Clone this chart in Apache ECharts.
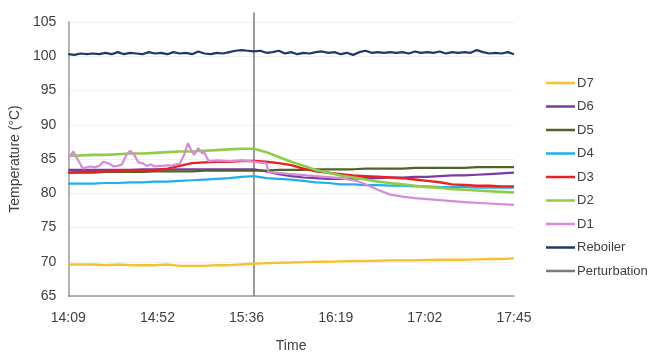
<!DOCTYPE html>
<html>
<head>
<meta charset="utf-8">
<script src="https://cdn.jsdelivr.net/npm/echarts@6/dist/echarts.min.js"></script>
<style>
  html, body { margin: 0; padding: 0; background: #ffffff; }
  #chart { width: 649px; height: 358px; }
</style>
</head>
<body>
<div id="chart"></div>
<script>
// Minutes elapsed since 14:09, x axis runs 0..216 (14:09 .. 17:45)
const tickLabels = ['14:09', '14:52', '15:36', '16:19', '17:02', '17:45'];

// Column temperatures sampled every 6 minutes
const sampleMinutes = [0, 6, 12, 18, 24, 30, 36, 42, 48, 54, 60, 66, 72, 78, 84, 90, 96, 102, 108,
  114, 120, 126, 132, 138, 144, 150, 156, 162, 168, 174, 180, 186, 192, 198, 204, 210, 216];

const d7 = [69.6, 69.6, 69.6, 69.5, 69.6, 69.5, 69.5, 69.5, 69.6, 69.4, 69.4, 69.4, 69.5, 69.5, 69.6,
  69.7, 69.8, 69.85, 69.9, 69.95, 70.0, 70.0, 70.05, 70.1, 70.1, 70.15, 70.2, 70.2, 70.2, 70.25,
  70.3, 70.3, 70.3, 70.35, 70.4, 70.4, 70.5];

const d6 = [83.4, 83.4, 83.4, 83.4, 83.4, 83.4, 83.5, 83.5, 83.5, 83.5, 83.5, 83.5, 83.5, 83.5, 83.5,
  83.5, 83.2, 82.8, 82.5, 82.3, 82.2, 82.1, 82.1, 82.1, 82.2, 82.2, 82.3, 82.3, 82.4, 82.4,
  82.5, 82.6, 82.6, 82.7, 82.8, 82.9, 83.0];

const d5 = [83.0, 83.0, 83.0, 83.1, 83.1, 83.1, 83.1, 83.2, 83.2, 83.2, 83.2, 83.3, 83.3, 83.3, 83.3,
  83.3, 83.3, 83.4, 83.4, 83.4, 83.5, 83.5, 83.5, 83.5, 83.6, 83.6, 83.6, 83.6, 83.7, 83.7,
  83.7, 83.7, 83.7, 83.8, 83.8, 83.8, 83.8];

const d4 = [81.4, 81.4, 81.4, 81.5, 81.5, 81.6, 81.6, 81.7, 81.7, 81.8, 81.9, 82.0, 82.1, 82.2, 82.4,
  82.5, 82.2, 82.1, 82.0, 81.8, 81.6, 81.5, 81.3, 81.3, 81.2, 81.2, 81.1, 81.1, 81.0, 81.0,
  80.9, 80.9, 80.9, 80.8, 80.8, 80.8, 80.8];

const d3 = [83.0, 83.1, 83.1, 83.2, 83.2, 83.3, 83.3, 83.4, 83.6, 84.0, 84.4, 84.5, 84.6, 84.6, 84.7,
  84.7, 84.6, 84.4, 84.1, 83.6, 83.2, 83.0, 82.8, 82.6, 82.5, 82.4, 82.3, 82.2, 82.0, 81.8,
  81.6, 81.3, 81.2, 81.1, 81.1, 81.0, 81.0];

const d2 = [85.5, 85.5, 85.6, 85.6, 85.7, 85.8, 85.8, 85.9, 86.0, 86.1, 86.1, 86.2, 86.3, 86.4, 86.5,
  86.5, 86.0, 85.3, 84.6, 84.0, 83.4, 83.0, 82.6, 82.3, 82.0, 81.7, 81.5, 81.3, 81.1, 80.9,
  80.8, 80.6, 80.5, 80.4, 80.3, 80.2, 80.1];

// D1 has short spikes, so it carries its own time stamps
const d1Minutes = [0, 1, 2.5, 4, 6, 7, 9, 11, 13, 15, 17, 19, 20, 22, 24, 26, 28, 30, 32, 34, 36, 38,
  40, 42, 44, 46, 48, 50, 52, 54, 56, 58, 60, 61, 63, 65, 66, 68, 72, 78, 84, 88, 92, 96, 97,
  100, 108, 120, 132, 140, 144, 150, 156, 162, 168, 180, 192, 204, 216];
const d1 = [85.2, 85.5, 86.1, 85.2, 84.2, 83.6, 83.8, 83.9, 83.8, 84.0, 84.6, 84.4, 84.3, 83.9, 84.0,
  84.2, 85.5, 86.2, 85.6, 84.5, 84.4, 84.0, 84.2, 83.9, 84.0, 84.0, 84.1, 84.0, 84.2, 84.3,
  85.5, 87.3, 86.0, 85.6, 86.6, 85.8, 85.9, 84.7, 84.8, 84.7, 84.8, 84.7, 84.5, 84.4, 83.1,
  83.0, 82.8, 82.5, 82.2, 81.8, 81.3, 80.5, 79.8, 79.5, 79.3, 79.0, 78.7, 78.5, 78.3];

// Reboiler sampled every 3 minutes
const reboilerMinutes = [0, 3, 6, 9, 12, 15, 18, 21, 24, 27, 30, 33, 36, 39, 42, 45, 48, 51, 54, 57,
  60, 63, 66, 69, 72, 75, 78, 81, 84, 87, 90, 93, 96, 99, 102, 105, 108, 111, 114, 117, 120,
  123, 126, 129, 132, 135, 138, 141, 144, 147, 150, 153, 156, 159, 162, 165, 168, 171, 174,
  177, 180, 183, 186, 189, 192, 195, 198, 201, 204, 207, 210, 213, 216];
const reboiler = [100.3, 100.2, 100.4, 100.3, 100.4, 100.3, 100.5, 100.3, 100.6, 100.3, 100.5, 100.4,
  100.3, 100.6, 100.4, 100.5, 100.3, 100.6, 100.4, 100.5, 100.3, 100.7, 100.4, 100.3, 100.5,
  100.4, 100.6, 100.8, 100.9, 100.8, 100.7, 100.8, 100.5, 100.6, 100.8, 100.4, 100.6, 100.3,
  100.5, 100.4, 100.6, 100.7, 100.5, 100.6, 100.3, 100.5, 100.2, 100.6, 100.8, 100.5, 100.6,
  100.5, 100.6, 100.5, 100.6, 100.4, 100.7, 100.5, 100.6, 100.5, 100.7, 100.4, 100.6, 100.5,
  100.6, 100.5, 100.9, 100.6, 100.4, 100.5, 100.4, 100.6, 100.3];

// Perturbation marker: a vertical line at 15:39
const perturbationMinutes = [90, 90];
const perturbation = [65, 106.4];

const pair = (xs, ys) => xs.map((x, i) => [x, ys[i]]);

const FONT = 'Liberation Sans';
const TEXT = '#404040';

function line(name, xs, ys, color, width) {
  return {
    name: name,
    type: 'line',
    data: pair(xs, ys),
    showSymbol: false,
    symbol: 'none',
    smooth: false,
    lineStyle: { color: color, width: width || 2 },
    itemStyle: { color: color },
    emphasis: { disabled: true },
    animation: false
  };
}

const series = [
  Object.assign(line('Perturbation', perturbationMinutes, perturbation, '#7a7a7a', 1.5), { clip: false }),
  line('Reboiler', reboilerMinutes, reboiler, '#1f3864', 2.2),
  line('D7', sampleMinutes, d7, '#f7c232', 2.4),
  line('D6', sampleMinutes, d6, '#7a3c9e', 2.2),
  line('D5', sampleMinutes, d5, '#4f6228', 2.2),
  line('D4', sampleMinutes, d4, '#1fb0ea', 2.2),
  line('D3', sampleMinutes, d3, '#e8231f', 2.4),
  line('D2', sampleMinutes, d2, '#8fcc4a', 2.6),
  line('D1', d1Minutes, d1, '#d88ad8', 2.2)
];

const chart = echarts.init(document.getElementById('chart'), null, { renderer: 'canvas' });
chart.setOption({
  backgroundColor: '#ffffff',
  animation: false,
  textStyle: { fontFamily: FONT },
  grid: { left: 64, right: 135, top: 22, bottom: 58, containLabel: false },
  legend: {
    orient: 'vertical',
    left: 541,
    top: 70,
    data: ['D7', 'D6', 'D5', 'D4', 'D3', 'D2', 'D1', 'Reboiler', 'Perturbation'],
    icon: 'rect',
    itemWidth: 29,
    itemHeight: 2.5,
    itemGap: 7.5,
    textStyle: { fontFamily: FONT, fontSize: 13, color: TEXT, lineHeight: 16, padding: [0, 0, 0, -3] },
    selectedMode: false
  },
  xAxis: {
    type: 'value',
    min: 0,
    max: 216,
    interval: 43.2,
    name: 'Time',
    nameLocation: 'middle',
    nameGap: 43,
    nameTextStyle: { fontFamily: FONT, fontSize: 14, color: TEXT },
    axisLine: { show: true, lineStyle: { color: '#9a9a9a', width: 1.5 } },
    axisTick: { show: false },
    splitLine: { show: false },
    axisLabel: {
      fontFamily: FONT, fontSize: 14, color: TEXT, margin: 15,
      formatter: v => tickLabels[Math.round(v / 43.2)] || ''
    }
  },
  yAxis: {
    type: 'value',
    min: 65,
    max: 105,
    interval: 5,
    name: 'Temperature (\u00b0C)',
    nameLocation: 'middle',
    nameGap: 40,
    nameTextStyle: { fontFamily: FONT, fontSize: 14, color: TEXT },
    axisLine: { show: true, lineStyle: { color: '#9a9a9a', width: 1.5 } },
    axisTick: { show: false },
    splitLine: { show: true, lineStyle: { color: '#f0f0f0', width: 1 } },
    axisLabel: { fontFamily: FONT, fontSize: 14, color: TEXT, margin: 12 }
  },
  series: series
});
</script>
</body>
</html>
